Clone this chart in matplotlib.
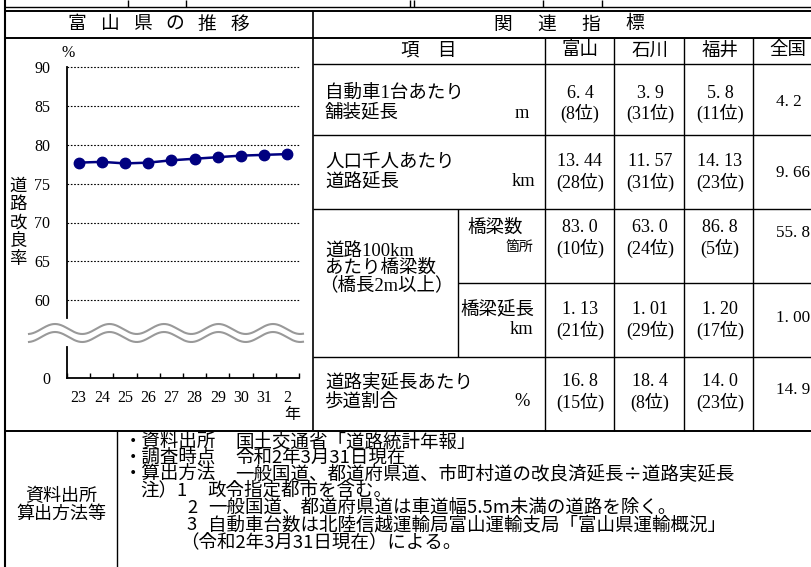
import numpy as np
import matplotlib
matplotlib.use('Agg')
import matplotlib.pyplot as plt

# chart data (road improvement rate, Toyama)
years = ['23', '24', '25', '26', '27', '28', '29', '30', '31', '2']
rate = [77.7, 77.8, 77.6, 77.7, 78.0, 78.2, 78.4, 78.6, 78.7, 78.8]
yticks = [50, 60, 65, 70, 75, 80, 85, 90]
ytick_labels = ['0', '60', '65', '70', '75', '80', '85', '90']

# related indicators table
prefs = ['富山', '石川', '福井', '全国']
toyama = [6.4, 13.44, 83.0, 1.13, 16.8]
toyama_rank = [8, 28, 10, 21, 15]
ishikawa = [3.9, 11.57, 63.0, 1.01, 18.4]
ishikawa_rank = [31, 31, 24, 29, 8]
fukui = [5.8, 14.13, 86.8, 1.20, 14.0]
fukui_rank = [11, 23, 5, 17, 23]
national = [4.2, 9.66, 55.8, 1.00, 14.9]
decimals = [1, 2, 1, 2, 1]

notes = [
    ('・資料出所', '国土交通省「道路統計年報」'),
    ('・調査時点', '令和2年3月31日現在'),
    ('・算出方法', '一般国道、都道府県道、市町村道の改良済延長÷道路実延長'),
    ('注）1', '政令指定都市を含む。'),
    ('2', '一般国道、都道府県道は車道幅5.5m未満の道路を除く。'),
    ('3', '自動車台数は北陸信越運輸局富山運輸支局「富山県運輸概況」'),
    ('', '（令和2年3月31日現在）による。'),
]

SJ = ['Liberation Serif', 'Noto Sans CJK JP']
GJ = ['Noto Sans CJK JP', 'DejaVu Sans']

W, H = 812, 567
fig = plt.figure(figsize=(W / 100, H / 100), dpi=100)

# ---- line chart ----
x0, x1, ytop, ybot = 67, 299, 67, 378
ax = fig.add_axes([x0 / W, 1 - ybot / H, (x1 - x0) / W, (ybot - ytop) / H])
ax.set_xlim(-0.5, 9.5)
ax.set_ylim(50, 90)
ax.hlines([60, 65, 70, 75, 80, 85, 90], -0.5, 9.55, colors='black',
          linestyles=(0, (1.5, 1.5)), linewidth=0.8, clip_on=False)
ax.plot(range(len(years)), rate, color='#000080', marker='o', markersize=7.5,
        linewidth=1.8, zorder=5)
for s in ['top', 'right', 'left']:
    ax.spines[s].set_visible(False)
ax.spines['bottom'].set_linewidth(1.3)
# broken y axis
ax.axvline(-0.5, ymin=0, ymax=(54.0 - 50) / 40, color='black', lw=1.3, clip_on=False)
ax.axvline(-0.5, ymin=(57.7 - 50) / 40, ymax=1, color='black', lw=1.3, clip_on=False)
ax.set_yticks(yticks)
ax.set_yticklabels(ytick_labels, family='Liberation Serif', fontsize=11.5)
ax.tick_params(axis='y', length=0, pad=12)
ax.set_xticks(np.arange(-0.5, 9.6, 1.0))
ax.set_xticklabels([])
ax.tick_params(axis='x', which='major', direction='in', length=3.5, width=1)
ax.set_xticks(range(len(years)), minor=True)
ax.set_xticklabels(years, minor=True, family='Liberation Serif', fontsize=11.5)
ax.tick_params(axis='x', which='minor', length=0, pad=9)
ax.patch.set_alpha(0)

# ---- overlay for table, texts and break mark ----
ov = fig.add_axes([0, 0, 1, 1], zorder=3)
ov.set_xlim(0, W)
ov.set_ylim(H, 0)
ov.axis('off')
ov.patch.set_alpha(0)


def hl(y, xa, xb, lw=1.0):
    ov.plot([xa, xb], [y, y], color='black', lw=lw, solid_capstyle='butt')


def vl(x, ya, yb, lw=1.0):
    ov.plot([x, x], [ya, yb], color='black', lw=lw, solid_capstyle='butt')


def put(x, y, s, size=13.3, ha='center', fam=SJ):
    ov.text(x, y, s, fontsize=size, ha=ha, va='center', family=fam)


# break wave
wx = np.linspace(29, 303, 400)
wy = 329 - 5 * np.cos(2 * np.pi * (wx - 55) / 54.5)
ov.fill_between(wx, wy, wy + 8, color='white', zorder=1)
ov.plot(wx, wy, color='#999999', lw=1.5)
ov.plot(wx, wy + 8, color='#999999', lw=1.5)

# top strip
hl(7, 5, W, 1.0)
hl(11, 5, W, 1.4)
for xv in [128, 186, 410, 414, 543, 602]:
    vl(xv, 0, 7)
vl(5, 0, H, 1.5)
# table grid
hl(38, 5, W, 1.4)
hl(64, 313, W)
hl(135, 313, W)
hl(209, 313, W)
hl(283, 458, W)
hl(357, 313, W)
hl(431, 5, W, 1.4)
vl(313, 11, 431, 1.2)
vl(458, 209, 357)
for xv in [545, 614, 684, 753]:
    vl(xv, 38, 431)
vl(117, 431, H)

# headers
for i, ch in enumerate('富山県の推移'):
    put(77 + 32.6 * i, 24, ch, size=13.5, fam=GJ)
for i, ch in enumerate('関連指標'):
    put(503 + 44 * i, 24, ch, size=13.5, fam=GJ)
put(429, 51, '項　目')
col_x = [580, 650, 720, 788]
for cx, p in zip(col_x, prefs):
    put(cx, 51, p)

# chart labels
put(68, 53, '%', size=11.5, fam=['Liberation Serif'])
put(292, 415, '年', size=11.5)
for i, ch in enumerate('道路改良率'):
    put(18, 187 + 18.2 * i, ch, size=12.5)

# item labels
put(325, 93, '自動車1台あたり', ha='left')
put(325, 113, '舗装延長', ha='left')
put(522, 113, 'm')
put(325, 162, '人口千人あたり', ha='left')
put(325, 182, '道路延長', ha='left')
put(523, 182, 'km')
put(325, 252, '道路100km', ha='left')
put(325, 268, 'あたり橋梁数', ha='left')
put(319, 285, '（橋長2m以上）', ha='left')
put(495, 228, '橋梁数')
put(533, 247, '箇所', size=10, ha='right')
put(497, 310, '橋梁延長')
put(533, 330, 'km', ha='right')
put(325, 382, '道路実延長あたり', ha='left')
put(325, 402, '歩道割合', ha='left')
put(522, 402, '%')

# values
val_y = [93, 162, 228, 310, 382]
nat_y = [102, 173, 233, 318, 390]


def fmt(v, d):
    return ('%.*f' % (d, v)).replace('.', '. ')


for vals, ranks, cx in [(toyama, toyama_rank, col_x[0]),
                        (ishikawa, ishikawa_rank, col_x[1]),
                        (fukui, fukui_rank, col_x[2])]:
    for v, r, d, yy in zip(vals, ranks, decimals, val_y):
        put(cx, yy, fmt(v, d), size=13)
        put(cx, yy + 20, '(%d位)' % r, size=13)
for v, d, yy in zip(national, decimals, nat_y):
    put(776, yy, fmt(v, d), size=12.3, ha='left')

# source / method notes
put(61, 496, '資料出所', fam=GJ, size=13)
put(61, 514, '算出方法等', fam=GJ, size=13)
note_y = [442, 458, 474, 491, 508, 525, 542]
for (lab, txt), yy in zip(notes, note_y):
    if lab.startswith('・'):
        put(124, yy, lab, ha='left', fam=GJ)
        put(235, yy, txt, ha='left', fam=GJ)
    elif lab.startswith('注'):
        put(140, yy, lab, ha='left', fam=GJ)
        put(207, yy, txt, ha='left', fam=GJ)
    elif lab:
        put(192, yy, lab, fam=GJ)
        put(208, yy, txt, ha='left', fam=GJ)
    else:
        put(180, yy, txt, ha='left', fam=GJ)

fig.savefig('out.png', dpi=100, facecolor='white')
